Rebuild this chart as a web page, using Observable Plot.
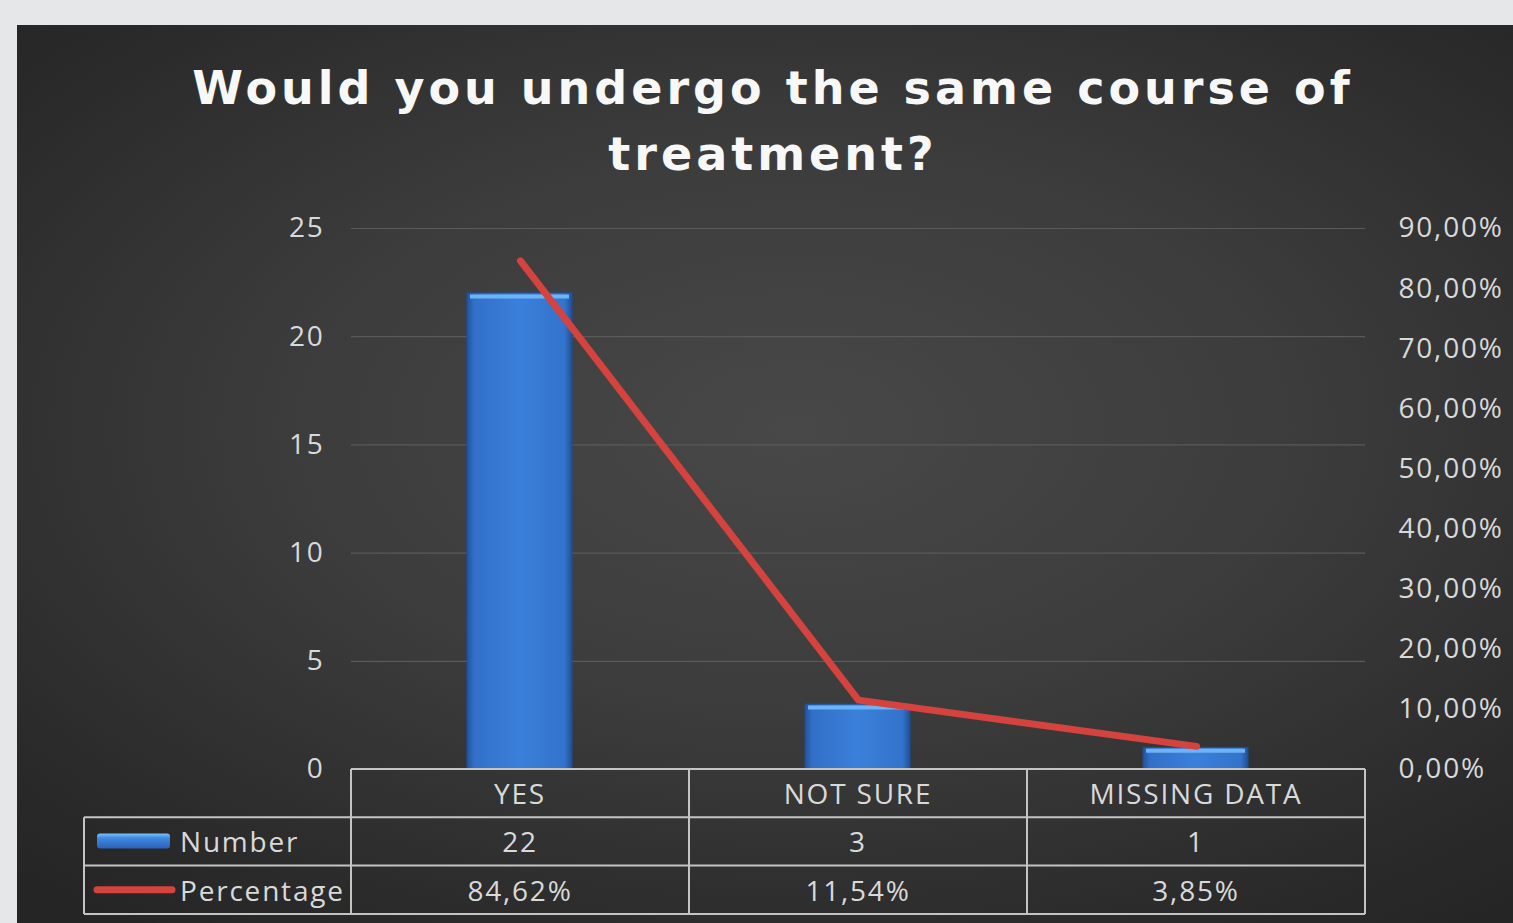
<!DOCTYPE html>
<html>
<head>
<meta charset="utf-8">
<script src="https://cdn.jsdelivr.net/npm/d3@7"></script>
<script src="https://cdn.jsdelivr.net/npm/@observablehq/plot@0.6"></script>
<style>
  html, body { margin: 0; padding: 0; }
  body { width: 1513px; height: 923px; background: #e6e7e9; overflow: hidden; position: relative; }
  #panel { position: absolute; left: 17px; top: 25px; width: 1496px; height: 898px;
    background: radial-gradient(ellipse 75% 70% at 52% 45%, #484848 0%, #3c3c3c 45%, #2a2a2a 85%, #252525 100%); }
  #title { position: absolute; left: 0; top: 30px; width: 1512px; text-align: center;
    font-family: "DejaVu Sans", Verdana, sans-serif; font-weight: bold; font-size: 46px;
    letter-spacing: 4px; line-height: 66px; color: #f8f8f8; }
  #chart { position: absolute; left: 0; top: 175px; }
  #chart svg text { letter-spacing: 1.8px; }
</style>
</head>
<body>
<div id="panel">
  <div id="title">Would you undergo the same course of<br>treatment?</div>
  <div id="chart"></div>
</div>
<script>
const categories = ["YES", "NOT SURE", "MISSING DATA"];
const numbers = [22, 3, 1];
const percentages = [84.62, 11.54, 3.85];
const percentLabels = ["84,62%", "11,54%", "3,85%"];
const countTicks = [0, 5, 10, 15, 20, 25];
const percentTicks = [0, 10, 20, 30, 40, 50, 60, 70, 80, 90];
const seriesNames = ["Number", "Percentage"];

const yMax = 25, pMax = 90;
const pToY = p => p / pMax * yMax;
const data = categories.map((c, i) => ({cat: c, n: numbers[i], p: percentages[i]}));
const fmtPct = v => (Math.round(v * pMax / yMax)).toFixed(2).replace(".", ",") + "%";

const textColor = "#d9d9d9";
const font = "'Open Sans', sans-serif";
const fs = 28;

const plot = Plot.plot({
  width: 1496, height: 723,
  marginLeft: 334, marginRight: 148, marginTop: 28, marginBottom: 154,
  style: {background: "transparent", color: textColor, fontFamily: font, fontSize: fs + "px", overflow: "visible"},
  x: {domain: categories, padding: 0, axis: null},
  y: {domain: [0, yMax], axis: null},
  marks: [
    Plot.gridY(countTicks.slice(1), {stroke: "#5a5a5a", strokeOpacity: 1, strokeWidth: 1.2}),
    Plot.axisY({ticks: countTicks, tickSize: 0, tickPadding: 27, tickFormat: d => String(d), fontSize: fs, fill: textColor, label: null}),
    Plot.axisY({anchor: "right", ticks: percentTicks.map(pToY), tickSize: 0, tickPadding: 33, tickFormat: fmtPct, fontSize: fs, fill: textColor, textAnchor: "start", label: null}),
    Plot.barY(data, {x: "cat", y: "n", fill: "url(#barGrad)", insetLeft: 116, insetRight: 117, stroke: "#1f4f94", strokeWidth: 1}),
    Plot.tickY(data, {x: "cat", y: "n", stroke: "#6cb4f5", strokeWidth: 4, dy: 3, insetLeft: 119, insetRight: 120}),
    Plot.line(data, {x: "cat", y: d => pToY(d.p), stroke: "#d4433e", strokeWidth: 7, strokeLinecap: "round", strokeLinejoin: "round"})
  ]
});

const svg = d3.select(plot);
const defs = svg.insert("defs", ":first-child");
const g1 = defs.append("linearGradient").attr("id", "barGrad").attr("x1", 0).attr("x2", 1).attr("y1", 0).attr("y2", 0);
[["0%", "#22549e"], ["7%", "#3270c8"], ["50%", "#3a80da"], ["93%", "#3373cc"], ["100%", "#214f96"]]
  .forEach(([o, c]) => g1.append("stop").attr("offset", o).attr("stop-color", c));
const g2 = defs.append("linearGradient").attr("id", "keyGrad").attr("x1", 0).attr("x2", 0).attr("y1", 0).attr("y2", 1);
[["0%", "#7cc4fa"], ["30%", "#3f8ae0"], ["100%", "#2a62b8"]]
  .forEach(([o, c]) => g2.append("stop").attr("offset", o).attr("stop-color", c));

// data table drawn from the plot's own x scale
const xs = plot.scale("x");
const bw = xs.bandwidth;
const x0 = xs.apply(categories[0]);
const x1 = xs.apply(categories[categories.length - 1]) + bw;
const yBase = 569, rowH = 48.3;
const legendLeft = 67;
const tbl = svg.append("g").attr("stroke", "#c4c4c4").attr("stroke-width", 2).attr("fill", "none");
tbl.append("line").attr("x1", x0).attr("x2", x1).attr("y1", yBase).attr("y2", yBase);
[1, 2, 3].forEach(r => tbl.append("line").attr("x1", legendLeft).attr("x2", x1).attr("y1", yBase + r * rowH).attr("y2", yBase + r * rowH));
categories.forEach(c => tbl.append("line").attr("x1", xs.apply(c)).attr("x2", xs.apply(c)).attr("y1", yBase).attr("y2", yBase + 3 * rowH));
tbl.append("line").attr("x1", x1).attr("x2", x1).attr("y1", yBase).attr("y2", yBase + 3 * rowH);
tbl.append("line").attr("x1", legendLeft).attr("x2", legendLeft).attr("y1", yBase + rowH).attr("y2", yBase + 3 * rowH);

const txt = svg.append("g").attr("fill", textColor).attr("font-family", font).attr("font-size", fs).attr("dominant-baseline", "central");
categories.forEach((c, i) => {
  const cx = xs.apply(c) + bw / 2;
  txt.append("text").attr("x", cx).attr("y", yBase + rowH * 0.5).attr("text-anchor", "middle").text(c);
  txt.append("text").attr("x", cx).attr("y", yBase + rowH * 1.5).attr("text-anchor", "middle").text(String(numbers[i]));
  txt.append("text").attr("x", cx).attr("y", yBase + rowH * 2.5).attr("text-anchor", "middle").text(percentLabels[i]);
});
txt.append("text").attr("x", 163).attr("y", yBase + rowH * 1.5).attr("text-anchor", "start").text(seriesNames[0]);
txt.append("text").attr("x", 163).attr("y", yBase + rowH * 2.5).attr("text-anchor", "start").text(seriesNames[1]);
svg.append("rect").attr("x", 80).attr("y", yBase + rowH * 1.5 - 8).attr("width", 73).attr("height", 15).attr("rx", 3).attr("fill", "url(#keyGrad)");
svg.append("line").attr("x1", 80).attr("x2", 155).attr("y1", yBase + rowH * 2.5).attr("y2", yBase + rowH * 2.5)
  .attr("stroke", "#d4433e").attr("stroke-width", 7).attr("stroke-linecap", "round");

document.getElementById("chart").appendChild(plot);
</script>
</body>
</html>
